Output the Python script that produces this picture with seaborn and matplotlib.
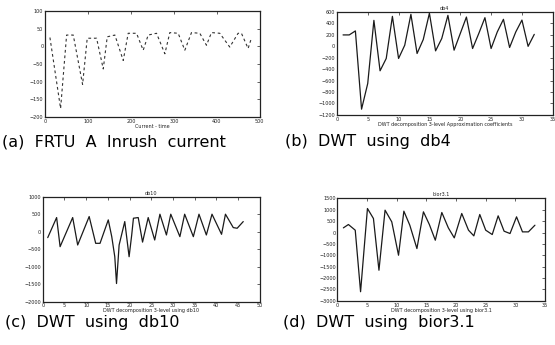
import matplotlib
matplotlib.use("Agg")
import matplotlib.pyplot as plt
import pandas as pd
import seaborn as sns

# Global style
sns.set_style("white")
plt.rcParams['font.family'] = ['DejaVu Sans']

# (a) raw inrush current waveform (peaks / troughs)
inrush_x = [11.6, 36.4, 50.4, 65.9, 87.6, 98.4, 120.2, 135.7, 145.0, 162.8,
            182.2, 193.8, 213.2, 228.7, 240.3, 259.7, 279.1, 290.7, 310.1, 325.6,
            341.1, 360.5, 376.0, 387.6, 407.0, 430.2, 449.6, 457.4, 472.9, 480.6]
inrush_y = [25, -176, 32, 32, -108, 23, 23, -64, 27, 32,
            -40, 37, 37, -11, 32, 37, -21, 39, 37, -11,
            39, 37, 3, 39, 37, -2, 37, 37, -6, 23]

# (b) db4 approximation coefficients
db4_x = list(range(1, 33))
db4_y = [200, 200, 270, -1100, -650, 455, -428, -212, 525, -212,
         20, 560, -125, 119, 580, -79, 137, 543, -67, 224,
         513, -38, 224, 502, -38, 252, 473, -20, 252, 460,
         0, 210]

# (c) db10
db10_x = [1.15, 3.2, 4.0, 6.9, 8.05, 10.7, 12.2, 13.2, 15.1, 15.9,
          16.6, 17.0, 17.6, 18.9, 19.9, 20.5, 20.9, 22.0, 23.0, 24.3,
          25.8, 27.0, 28.5, 29.5, 31.6, 32.7, 34.7, 36.0, 37.7, 39.0,
          41.2, 42.1, 43.9, 44.8, 46.2]
db10_y = [-172, 402, -431, 402, -383, 431, -335, -335, 335, -144,
          -718, -1485, -383, 287, -718, -96, 383, 402, -300, 402,
          -240, 498, -96, 498, -144, 498, -144, 498, -96, 498,
          -77, 498, 115, 96, 287]

# (d) bior3.1
bior_x = [1.0, 1.85, 3.0, 3.9, 5.06, 6.07, 7.0, 8.03, 9.16, 10.3,
          11.2, 12.2, 13.4, 14.5, 15.5, 16.5, 17.6, 18.7, 19.7, 20.96,
          22.1, 23.0, 24.0, 25.0, 26.1, 27.1, 28.1, 29.1, 30.2, 31.2,
          32.2, 33.3]
bior_y = [205, 352, 103, -2600, 1055, 616, -1656, 982, 469, -997,
          938, 323, -704, 909, 352, -337, 880, 205, -235, 836,
          103, -147, 792, 103, -88, 733, 59, -44, 689, 29,
          29, 322]

captions = ["(a)  FRTU  A  Inrush  current", "(b)  DWT  using  db4",
            "(c)  DWT  using  db10", "(d)  DWT  using  bior3.1"]

fig = plt.figure(figsize=(5.55, 3.45), dpi=100)
ax_a = fig.add_axes([0.081, 0.661, 0.387, 0.307])
ax_b = fig.add_axes([0.607, 0.667, 0.389, 0.298])
ax_c = fig.add_axes([0.077, 0.126, 0.391, 0.304])
ax_d = fig.add_axes([0.608, 0.128, 0.374, 0.297])


def style_axis(ax, title, xlabel, xlim, xticks, ylim, yticks):
    ax.set_xlim(xlim)
    ax.set_ylim(ylim)
    ax.set_xticks(xticks)
    ax.set_yticks(yticks)
    ax.tick_params(direction='in', top=True, right=True, length=2, width=0.5,
                   labelsize=3.5, pad=1.2, colors='#222')
    for s in ax.spines.values():
        s.set_linewidth(0.9)
        s.set_color('#222')
    ax.set_title(title, fontsize=3.5, pad=1.5, color='#222')
    ax.set_xlabel(xlabel, fontsize=3.5, labelpad=0.2, color='#222')
    ax.set_ylabel('')


sns.lineplot(x=inrush_x, y=inrush_y, ax=ax_a, color='#333', lw=0.8,
             linestyle=(0, (2.5, 2.5)), estimator=None, sort=False)
style_axis(ax_a, '', 'Current - time', (0, 500), [0, 100, 200, 300, 400, 500],
           (-200, 100), [-200, -150, -100, -50, 0, 50, 100])

sns.lineplot(x=db4_x, y=db4_y, ax=ax_b, color='#1a1a1a', lw=0.9,
             estimator=None, sort=False)
style_axis(ax_b, 'db4', 'DWT decomposition 3-level Approximation coefficients',
           (0, 35), list(range(0, 36, 5)), (-1200, 600), list(range(-1200, 601, 200)))

sns.lineplot(x=db10_x, y=db10_y, ax=ax_c, color='#1a1a1a', lw=0.9,
             estimator=None, sort=False)
style_axis(ax_c, 'db10', 'DWT decomposition 3-level using db10',
           (0, 50), list(range(0, 51, 5)), (-2000, 1000), list(range(-2000, 1001, 500)))

sns.lineplot(x=bior_x, y=bior_y, ax=ax_d, color='#1a1a1a', lw=0.9,
             estimator=None, sort=False)
style_axis(ax_d, 'bior3.1', 'DWT decomposition 3-level using bior3.1',
           (0, 35), list(range(0, 36, 5)), (-3000, 1500), list(range(-3000, 1501, 500)))

# Captions under each panel
cap_kw = dict(fontsize=11.5, va='center', ha='left', color='black')
fig.text(0.004, 0.589, captions[0], **cap_kw)
fig.text(0.513, 0.589, captions[1], **cap_kw)
fig.text(0.009, 0.066, captions[2], **cap_kw)
fig.text(0.510, 0.066, captions[3], **cap_kw)

fig.savefig('out.png', dpi=100, facecolor='white')
